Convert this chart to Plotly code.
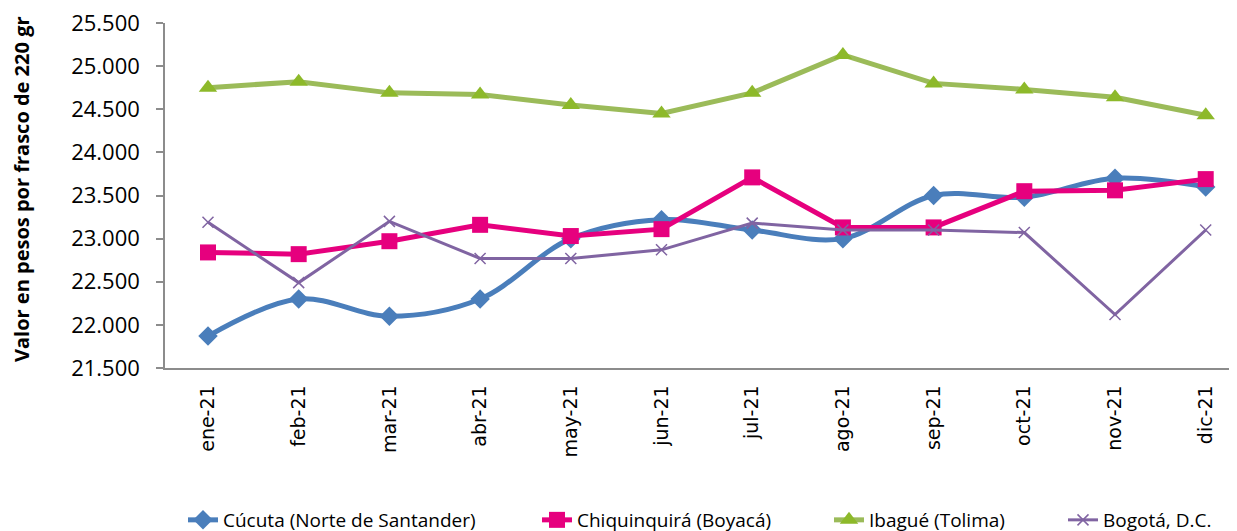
import plotly.graph_objects as go

months = ["ene-21", "feb-21", "mar-21", "abr-21", "may-21", "jun-21",
          "jul-21", "ago-21", "sep-21", "oct-21", "nov-21", "dic-21"]
cucuta = [21870, 22300, 22100, 22300, 23000, 23220, 23100, 23000, 23500, 23480, 23700, 23600]
chiquinquira = [22840, 22820, 22970, 23160, 23030, 23110, 23710, 23130, 23130, 23550, 23560, 23690]
ibague = [24750, 24820, 24690, 24670, 24550, 24450, 24690, 25130, 24800, 24730, 24640, 24430]
bogota = [23190, 22490, 23200, 22770, 22770, 22870, 23180, 23100, 23100, 23070, 22120, 23100]
y_ticks = [21500, 22000, 22500, 23000, 23500, 24000, 24500, 25000, 25500]
y_tick_text = ["21.500", "22.000", "22.500", "23.000", "23.500", "24.000", "24.500", "25.000", "25.500"]

x = list(range(len(months)))

fig = go.Figure()
fig.add_trace(go.Scatter(
    x=x, y=cucuta, name="Cúcuta (Norte de Santander)", mode="lines+markers",
    line=dict(color="#4A7EBB", width=5, shape="spline", smoothing=1.0),
    marker=dict(symbol="diamond", size=15, color="#4A7EBB"),
    legend="legend"))
fig.add_trace(go.Scatter(
    x=x, y=chiquinquira, name="Chiquinquirá (Boyacá)", mode="lines+markers",
    line=dict(color="#E6007E", width=5),
    marker=dict(symbol="square", size=16, color="#E6007E"),
    legend="legend2"))
fig.add_trace(go.Scatter(
    x=x, y=ibague, name="Ibagué (Tolima)", mode="lines+markers",
    line=dict(color="#9BBB59", width=5),
    marker=dict(symbol="triangle-up", size=16, color="#8DB92A"),
    legend="legend3"))
fig.add_trace(go.Scatter(
    x=x, y=bogota, name="Bogotá, D.C.", mode="lines+markers",
    line=dict(color="#8064A2", width=3),
    marker=dict(symbol="x-thin", size=11, line=dict(color="#8064A2", width=1.5), color="#8064A2"),
    legend="legend4"))

# Page offset (default body margin of the html page)
OFF = 8
W, H = 1237, 531
# target plot area in page pixels: left 165, top 23, bottom 368, right 1237
L = 165 - OFF
T = 23 - OFF
B = H - (368 - OFF)
R = W - (1237 - OFF)
pw = W - L - R
ph = H - T - B

def lx(px):
    return (px - OFF - L) / pw

def ly(py):
    return (H - B - (py - OFF)) / ph

leg_common = dict(orientation="h", yanchor="middle", xanchor="left",
                  font=dict(family="Open Sans", size=19, color="#000000"),
                  bgcolor="rgba(0,0,0,0)", itemwidth=30, tracegroupgap=0)

fig.update_layout(
    width=W, height=H,
    margin=dict(l=L, r=R, t=T, b=B, autoexpand=False),
    paper_bgcolor="white", plot_bgcolor="white",
    showlegend=True,
    legend=dict(x=lx(183), y=ly(520), **leg_common),
    legend2=dict(x=lx(537), y=ly(520), **leg_common),
    legend3=dict(x=lx(829), y=ly(520), **leg_common),
    legend4=dict(x=lx(1063), y=ly(520), **leg_common),
    xaxis=dict(
        type="linear", range=[-0.474, 11.345],
        tickmode="array", tickvals=x, ticktext=months,
        tickangle=-90, ticks="", showgrid=False, zeroline=False,
        showline=True, linecolor="#8C8C8C", linewidth=1.5,
        tickfont=dict(family="DejaVu Sans", size=19, color="#000000"),
        ticklabelstandoff=8,
    ),
    yaxis=dict(
        range=[21500, 25500], tickmode="array", tickvals=y_ticks, ticktext=y_tick_text,
        ticks="outside", ticklen=7, tickcolor="#8C8C8C", tickwidth=1.5,
        showgrid=False, zeroline=False,
        showline=True, linecolor="#8C8C8C", linewidth=1.5,
        tickfont=dict(family="Open Sans", size=22, color="#000000"),
        ticklabelstandoff=12, ticklabeloverflow="allow",
    ),
    annotations=[dict(
        text="<b>Valor en pesos por frasco de 220 gr</b>",
        xref="paper", yref="paper", x=lx(21), y=ly(189),
        xanchor="center", yanchor="middle", textangle=-90, showarrow=False,
        font=dict(family="Open Sans", size=20, color="#000000"))],
)

fig.write_html("out.html")
